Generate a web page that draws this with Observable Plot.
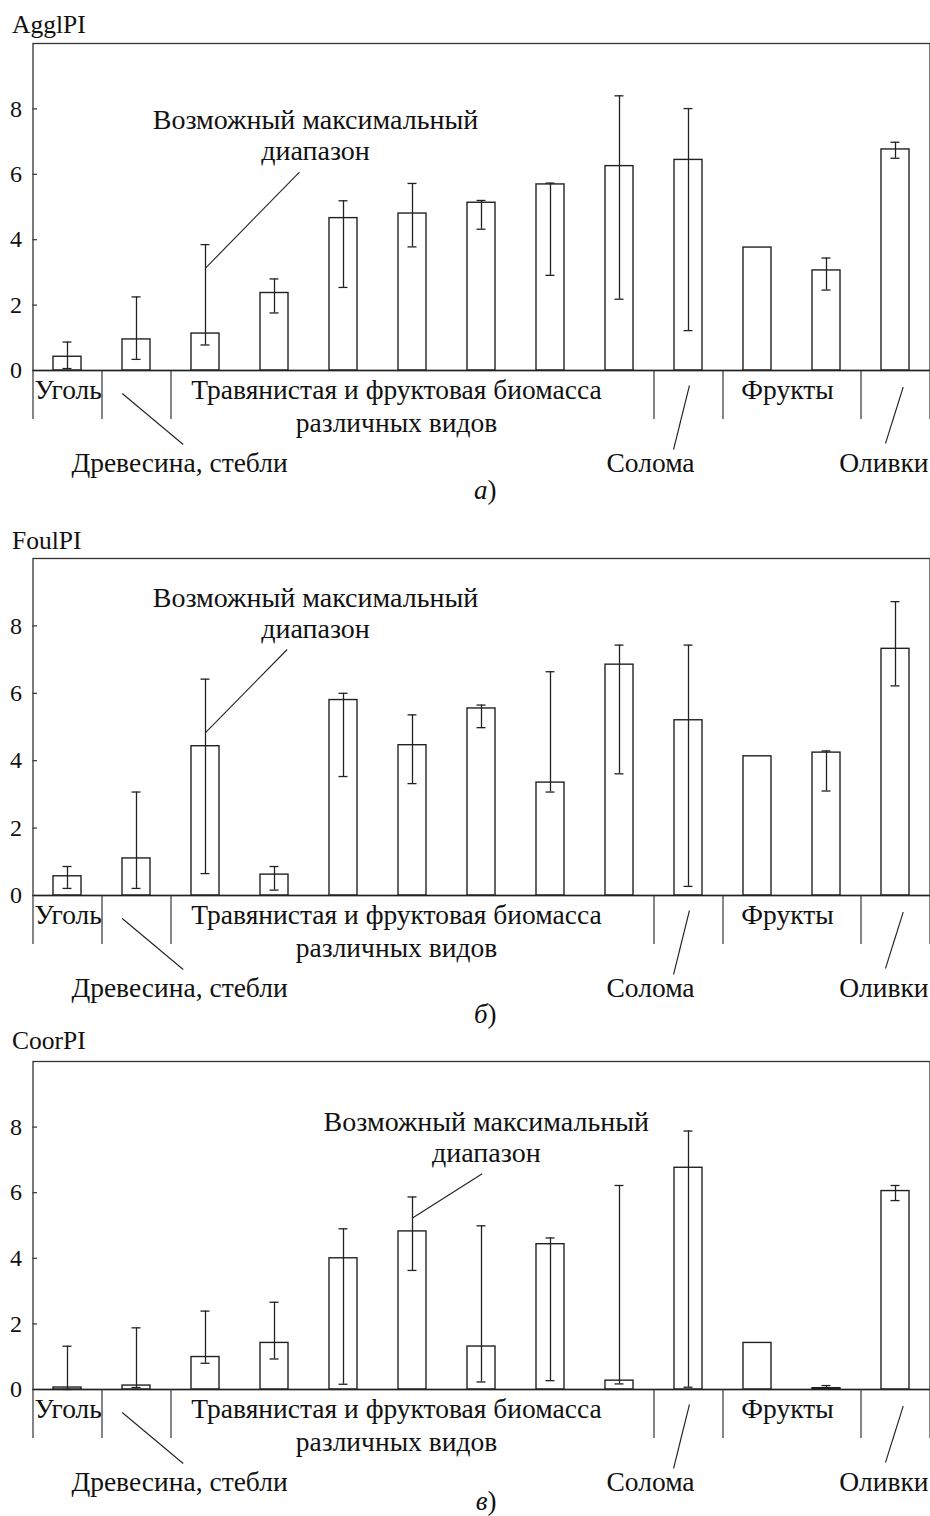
<!DOCTYPE html>
<html>
<head>
<meta charset="utf-8">
<script src="https://cdn.jsdelivr.net/npm/d3@7"></script>
<script src="https://cdn.jsdelivr.net/npm/@observablehq/plot@0.6"></script>
<style>
  html, body { margin: 0; padding: 0; background: #fff; }
  #chart svg { display: block; }
</style>
</head>
<body>
<div id="chart"></div>
<script>
// ---------- data ----------
const barIndex = [0, 1, 2, 3, 4, 5, 6, 7, 8, 9, 10, 11, 12];
const barGroup = [
  "Уголь",
  "Древесина, стебли",
  "Травянистая и фруктовая биомасса\nразличных видов",
  "Травянистая и фруктовая биомасса\nразличных видов",
  "Травянистая и фруктовая биомасса\nразличных видов",
  "Травянистая и фруктовая биомасса\nразличных видов",
  "Травянистая и фруктовая биомасса\nразличных видов",
  "Травянистая и фруктовая биомасса\nразличных видов",
  "Травянистая и фруктовая биомасса\nразличных видов",
  "Солома",
  "Фрукты",
  "Фрукты",
  "Оливки"
];
const yTicks = [0, 2, 4, 6, 8];

const agglValue = [0.42, 0.95, 1.13, 2.37, 4.66, 4.80, 5.13, 5.69, 6.25, 6.44, 3.76, 3.06, 6.76];
const agglLow   = [0.06, 0.34, 0.78, 1.76, 2.54, 3.78, 4.32, 2.91, 2.18, 1.22, null, 2.46, 6.49];
const agglHigh  = [0.87, 2.25, 3.85, 2.80, 5.19, 5.72, 5.20, 5.73, 8.40, 8.01, null, 3.44, 6.98];

const foulValue = [0.57, 1.10, 4.43, 0.62, 5.80, 4.46, 5.55, 3.35, 6.85, 5.20, 4.13, 4.24, 7.32];
const foulLow   = [0.21, 0.21, 0.65, 0.16, 3.53, 3.32, 4.98, 3.07, 3.61, 0.27, null, 3.10, 6.22];
const foulHigh  = [0.86, 3.07, 6.42, 0.86, 6.00, 5.36, 5.65, 6.64, 7.43, 7.43, null, 4.29, 8.72];

const coorValue = [0.06, 0.12, 0.99, 1.42, 4.00, 4.82, 1.31, 4.43, 0.27, 6.76, 1.42, 0.04, 6.05];
const coorLow   = [0.00, 0.06, 0.80, 0.93, 0.16, 3.63, 0.23, 0.27, 0.17, 0.07, null, 0.02, 5.76];
const coorHigh  = [1.32, 1.88, 2.39, 2.66, 4.90, 5.87, 4.99, 4.62, 6.22, 7.88, null, 0.12, 6.22];

const annotationText = "Возможный максимальный\nдиапазон";

// ---------- helpers ----------
const groups = d3.groups(barIndex, i => barGroup[i]).map(([name, idx]) => ({
  name, first: d3.min(idx), last: d3.max(idx), center: (d3.min(idx) + d3.max(idx)) / 2
}));
const boundaries = [groups[0].first - 0.5, ...groups.map(g => g.last + 0.5)];
const grp = name => groups.find(g => g.name === name);

const FONT = "'Liberation Serif', 'Times New Roman', serif";
const INK = "#222";
const LABEL_SIZE = 27.5;

function panel(cfg) {
  const {values, lows, highs, title, letter, height, marginTop, marginBottom, titleDy, captionDy, ann} = cfg;
  const plotH = height - marginTop - marginBottom;
  const u = plotH / 10;               // px per y-unit
  const below = p => -p / u;          // pixel distance below axis -> y value
  const bars = barIndex.map(i => ({i, v: values[i], lo: lows[i], hi: highs[i]}));
  const errs = bars.filter(d => d.lo != null && d.hi != null);
  const caps = errs.flatMap(d => [{i: d.i, y: d.lo}, {i: d.i, y: d.hi}]);

  const coal = grp("Уголь"), fruits = grp("Фрукты");
  const grass = groups.find(g => g.name.startsWith("Травянистая"));
  const wood = grp("Древесина, стебли"), straw = grp("Солома"), olives = grp("Оливки");
  const leaders = [
    {x1: wood.center - 0.207, x2: wood.center + 0.677, y1: below(23), y2: below(74)},
    {x1: straw.center + 0.014, x2: straw.center - 0.217, y1: below(15), y2: below(79)},
    {x1: olives.center + 0.112, x2: olives.center - 0.145, y1: below(16.5), y2: below(73)}
  ];
  const lbl = {y: 0, text: "name", lineAnchor: "bottom", fontSize: LABEL_SIZE, fontFamily: FONT};

  return Plot.plot({
    width: 930,
    height,
    marginLeft: 32.5,
    marginRight: 0.5,
    marginTop,
    marginBottom,
    x: {domain: [-0.5, 12.5], axis: null},
    y: {domain: [0, 10]},
    style: {fontFamily: FONT, background: "white", color: "#111", overflow: "visible"},
    marks: [
      Plot.frame({stroke: "#333", strokeWidth: 1.3}),
      Plot.axisY(yTicks, {tickSize: 0, tickPadding: 11, fontSize: 24, fontFamily: FONT, label: null, fill: "#111"}),
      Plot.ruleY(yTicks.filter(t => t > 0), {x1: -0.5, x2: -0.5 + 4.5 / 69, stroke: "#333", strokeWidth: 1.2}),
      Plot.rectY(bars, {x1: d => d.i - 0.203, x2: d => d.i + 0.203, y1: 0, y2: "v", fill: "white", stroke: INK, strokeWidth: 1.4}),
      Plot.ruleX(errs, {x: "i", y1: "lo", y2: "hi", stroke: INK, strokeWidth: 1.3}),
      Plot.ruleY(caps, {y: "y", x1: d => d.i - 0.065, x2: d => d.i + 0.065, stroke: INK, strokeWidth: 1.3}),
      Plot.ruleY([0], {stroke: INK, strokeWidth: 1.4}),
      // category separators below the axis
      Plot.ruleX(boundaries, {x: d => d, y1: 0, y2: below(49), stroke: "#333", strokeWidth: 1.2}),
      // inline category labels
      Plot.text([coal], {...lbl, x: d => d.first - 0.5, textAnchor: "start", dx: 1.5, dy: 28.5}),
      Plot.text([grass], {...lbl, x: "center", textAnchor: "middle", dx: -16, dy: 61.5, lineHeight: 1.2}),
      Plot.text([fruits], {...lbl, x: "center", textAnchor: "middle", dx: -4.5, dy: 28.5}),
      // callout labels with leader lines
      Plot.link(leaders, {x1: "x1", y1: "y1", x2: "x2", y2: "y2", stroke: INK, strokeWidth: 1.1}),
      Plot.text([wood], {...lbl, x: "center", textAnchor: "middle", dx: 43, dy: 101}),
      Plot.text([straw], {...lbl, x: "center", textAnchor: "middle", dx: -38, dy: 101}),
      Plot.text([olives], {...lbl, x: d => d.last + 0.5, textAnchor: "end", dx: -1.5, dy: 101}),
      // annotation
      Plot.link([ann], {x1: "lx1", y1: "ly1", x2: "lx2", y2: "ly2", stroke: INK, strokeWidth: 1.1}),
      Plot.text([ann], {x: "tx", y: "ty", text: d => annotationText, textAnchor: "middle", lineAnchor: "bottom", lineHeight: 1.13, fontSize: 28, fontFamily: FONT}),
      // title (y label)
      Plot.text([title], {frameAnchor: "top-left", text: d => d, textAnchor: "start", lineAnchor: "bottom", dx: -21, dy: -titleDy, fontSize: 25.5, fontFamily: FONT}),
      // caption
      Plot.text([letter], {x: 6, y: 0, text: d => d, textAnchor: "end", lineAnchor: "bottom", dx: 6, dy: captionDy, fontSize: 27, fontStyle: "italic", fontFamily: FONT}),
      Plot.text([")"], {x: 6, y: 0, text: d => d, textAnchor: "start", lineAnchor: "bottom", dx: 6, dy: captionDy, fontSize: 27, fontFamily: FONT})
    ]
  });
}

const chart = document.getElementById("chart");
chart.append(panel({
  values: agglValue, lows: agglLow, highs: agglHigh, title: "AgglPI", letter: "а",
  height: 510, marginTop: 43, marginBottom: 140, titleDy: 11, captionDy: 128,
  ann: {tx: 3.594, ty: 6.43, lx1: 3.362, ly1: 6.07, lx2: 2, ly2: 3.13}
}));
chart.append(panel({
  values: foulValue, lows: foulLow, highs: foulHigh, title: "FoulPI", letter: "б",
  height: 515, marginTop: 48, marginBottom: 130, titleDy: 10, captionDy: 127,
  ann: {tx: 3.594, ty: 7.63, lx1: 3.184, ly1: 7.30, lx2: 2, ly2: 4.83}
}));
chart.append(panel({
  values: coorValue, lows: coorLow, highs: coorHigh, title: "CoorPI", letter: "в",
  height: 491, marginTop: 36, marginBottom: 127, titleDy: 13, captionDy: 120,
  ann: {tx: 6.07, ty: 6.93, lx1: 6.01, ly1: 6.58, lx2: 5, ly2: 5.23}
}));
</script>
</body>
</html>
